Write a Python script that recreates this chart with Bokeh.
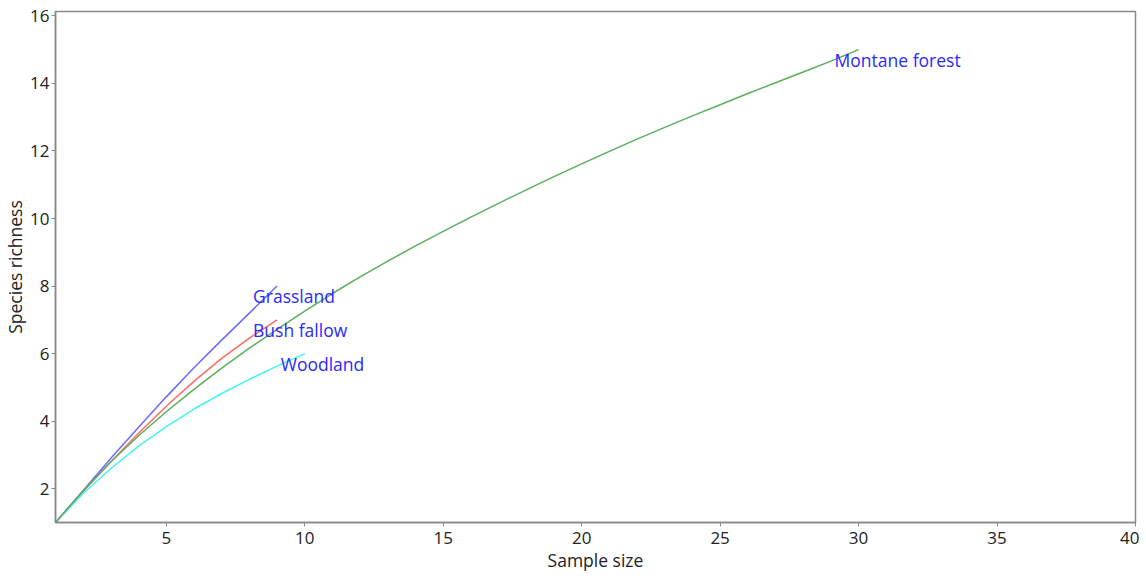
from bokeh.plotting import figure
from bokeh.models import FixedTicker, Range1d, ColumnDataSource
from bokeh.core.properties import value
from bokeh.embed import file_html
from bokeh.resources import INLINE

# Data
grass_x = [1, 2, 3, 4, 5, 6, 7, 8, 9]
grass_y = [1.0, 1.95, 2.9, 3.82, 4.72, 5.58, 6.4, 7.2, 8.0]
bush_x = [1, 2, 3, 4, 5, 6, 7, 8, 9]
bush_y = [1.0, 1.92, 2.8, 3.64, 4.44, 5.18, 5.86, 6.46, 7.0]
wood_x = [1, 2, 3, 4, 5, 6, 7, 8, 9, 10]
wood_y = [1.0, 1.86, 2.6, 3.26, 3.84, 4.36, 4.82, 5.24, 5.63, 6.0]
mont_x = list(range(1, 31))
mont_y = [1.0, 1.94, 2.8, 3.57, 4.28, 4.94, 5.57, 6.16, 6.72, 7.26,
          7.78, 8.27, 8.74, 9.19, 9.62, 10.04, 10.45, 10.85, 11.24, 11.62,
          11.99, 12.35, 12.7, 13.04, 13.37, 13.7, 14.02, 14.34, 14.66, 15.0]
labels = ["Grassland", "Bush fallow", "Woodland", "Montane forest"]
x_ticks = [5, 10, 15, 20, 25, 30, 35, 40]
y_ticks = [2, 4, 6, 8, 10, 12, 14, 16]

series = [
    (grass_x, grass_y, "#6a6aff"),
    (bush_x, bush_y, "#ff6a6a"),
    (wood_x, wood_y, "#44f4f4"),
    (mont_x, mont_y, "#5aaf5a"),
]

p = figure(frame_width=1080, frame_height=511, output_backend="svg", toolbar_location=None,
           x_range=Range1d(1, 40), y_range=Range1d(1, 16.13),
           min_border_left=50, min_border_right=4, min_border_top=11, min_border_bottom=40)
p.background_fill_color = "white"
p.border_fill_color = "white"
p.outline_line_color = "#888888"
p.outline_line_width = 1.5
p.xgrid.visible = False
p.ygrid.visible = False

for xs, ys, c in series:
    p.line(xs, ys, line_color=c, line_width=1.5)

lab_x = [series[i][0][-1] for i in range(4)]
lab_y = [series[i][1][-1] for i in range(4)]
src = ColumnDataSource(dict(x=lab_x, y=lab_y, t=labels))
p.text(x="x", y="y", text="t", source=src, x_offset=-24, y_offset=10,
       text_align="left", text_baseline="middle", text_color="#2a2aff",
       text_font=value("Open Sans"), text_font_size="17.5px")

for ax in (p.xaxis[0], p.yaxis[0]):
    ax.axis_line_color = "#888888"
    ax.axis_line_width = 1.5
    ax.major_tick_line_color = "#888888"
    ax.major_tick_in = 0
    ax.major_tick_out = 4
    ax.minor_tick_line_color = None
    ax.major_label_text_font = "Open Sans"
    ax.major_label_text_font_size = "17px"
    ax.major_label_text_color = "#222222"
    ax.axis_label_text_font = "Open Sans"
    ax.axis_label_text_font_size = "17.5px"
    ax.axis_label_text_font_style = "normal"
    ax.axis_label_text_color = "#222222"

p.xaxis.ticker = FixedTicker(ticks=x_ticks)
p.yaxis.ticker = FixedTicker(ticks=y_ticks)
p.xaxis.axis_label = "Sample size"
p.yaxis.axis_label = "Species richness"
p.xaxis.major_label_standoff = 5
p.yaxis.major_label_standoff = 2
p.xaxis.axis_label_standoff = 1
p.yaxis.axis_label_standoff = 0

open("out.html", "w").write(file_html(p, INLINE))
